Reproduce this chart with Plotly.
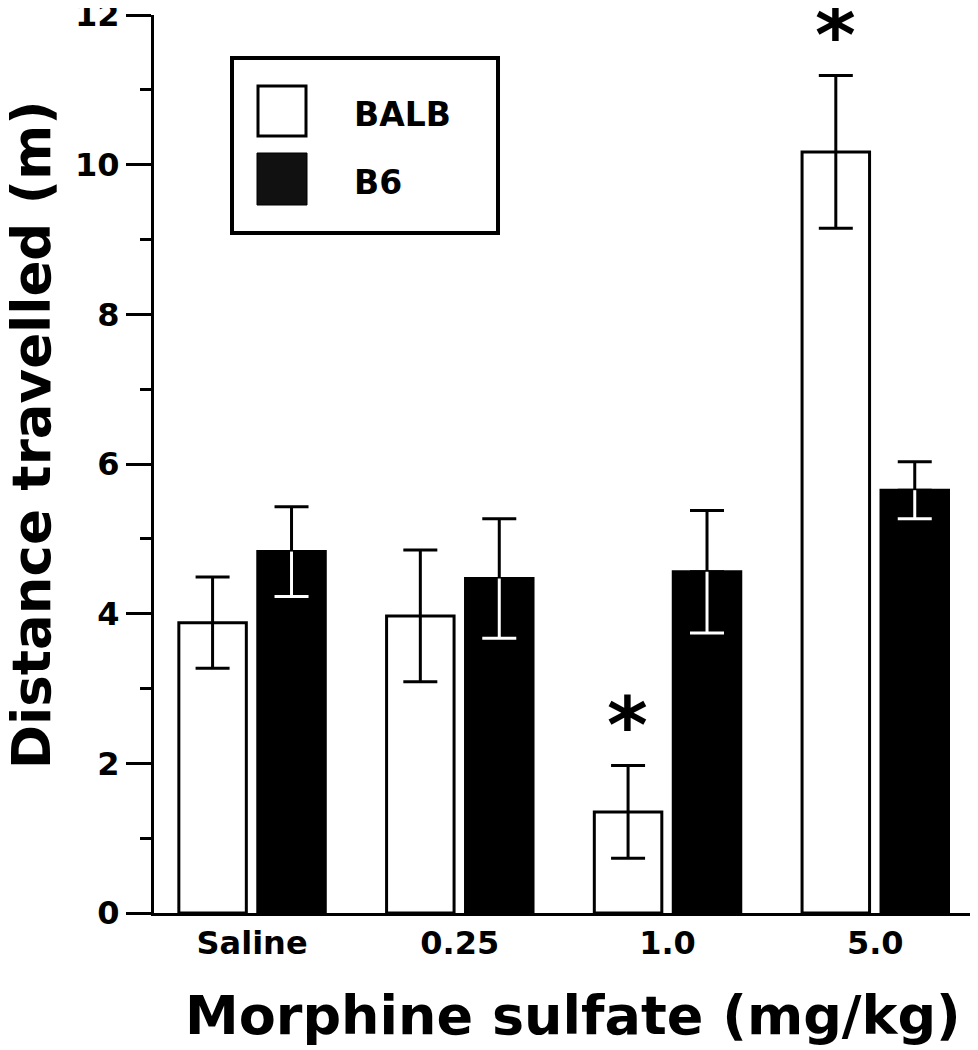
import plotly.graph_objects as go

# ---------------- data ----------------
categories = ["Saline", "0.25", "1.0", "5.0"]
balb_mean = [3.88, 3.97, 1.35, 10.17]
balb_sem = [0.61, 0.88, 0.62, 1.02]
b6_mean = [4.83, 4.47, 4.56, 5.65]
b6_sem = [0.60, 0.80, 0.82, 0.38]
series_names = ["BALB", "B6"]
significant_balb = ["1.0", "5.0"]
y_ticks = [0, 2, 4, 6, 8, 10, 12]

FONT = "DejaVu Sans"
BODY = 8                      # default page margin of the html body
W, H = 978 - BODY, 1050 - BODY
ML, MR, MT, MB = 154 - BODY, 3, 15 - BODY, 137

zeros = [0] * len(categories)
b6_low = [m - e for m, e in zip(b6_mean, b6_sem)]

fig = go.Figure()

# BALB: white bars, black outline, black error bars
fig.add_trace(go.Bar(
    x=categories, y=balb_mean, name=series_names[0], offsetgroup="balb",
    marker=dict(color="white", line=dict(color="black", width=3)),
    error_y=dict(type="data", array=balb_sem, color="black", thickness=3, width=17),
))
# B6: black bars, black upper error bar
fig.add_trace(go.Bar(
    x=categories, y=b6_mean, name=series_names[1], offsetgroup="b6",
    marker=dict(color="black", line=dict(color="black", width=3)),
    error_y=dict(type="data", symmetric=False, array=b6_sem, arrayminus=zeros,
                 color="black", thickness=3, width=17),
))
# B6: white lower stem inside the black bar
fig.add_trace(go.Bar(
    x=categories, y=b6_mean, offsetgroup="b6", showlegend=False, hoverinfo="skip",
    marker=dict(color="rgba(0,0,0,0)", line=dict(width=0)),
    error_y=dict(type="data", symmetric=False, array=zeros, arrayminus=b6_sem,
                 color="white", thickness=3, width=0),
))
# B6: white lower cap
fig.add_trace(go.Bar(
    x=categories, y=b6_low, offsetgroup="b6", showlegend=False, hoverinfo="skip",
    marker=dict(color="rgba(0,0,0,0)", line=dict(width=0)),
    error_y=dict(type="data", array=zeros, color="white", thickness=3, width=17),
))

pw, ph = W - ML - MR, H - MT - MB
def px(x):   # page x -> paper
    return (x - BODY - ML) / pw
def py(y):   # page y -> paper
    return ((H - MB) - (y - BODY)) / ph

annotations = []
# significance asterisks above BALB bars
for cat in significant_balb:
    i = categories.index(cat)
    annotations.append(dict(
        x=i, y=balb_mean[i] + balb_sem[i], xref="x", yref="y",
        text="*", showarrow=False, xshift=-40, yshift=-7, yanchor="bottom",
        font=dict(family=FONT, size=78, color="black", weight="bold"),
    ))

# axis titles
annotations.append(dict(
    x=px(573), y=py(1015), xref="paper", yref="paper",
    text="Morphine sulfate (mg/kg)", showarrow=False,
    xanchor="center", yanchor="middle",
    font=dict(family=FONT, size=54, color="black", weight="bold"),
))
annotations.append(dict(
    x=px(31), y=py(435), xref="paper", yref="paper",
    text="Distance travelled (m)", showarrow=False,
    textangle=-90, xanchor="center", yanchor="middle",
    font=dict(family=FONT, size=53, color="black", weight="bold"),
))

# legend (drawn manually to match the large swatches)
shapes = [
    dict(type="rect", xref="paper", yref="paper", x0=px(232), x1=px(498), y0=py(233), y1=py(58),
         line=dict(color="black", width=4), fillcolor="white", layer="above"),
    dict(type="rect", xref="paper", yref="paper", x0=px(258), x1=px(306), y0=py(136), y1=py(86),
         line=dict(color="black", width=3), fillcolor="white", layer="above"),
    dict(type="rect", xref="paper", yref="paper", x0=px(257), x1=px(307), y0=py(205), y1=py(153),
         line=dict(color="black", width=1), fillcolor="#111111", layer="above"),
]
for name, yc in zip(series_names, [114, 182]):
    annotations.append(dict(
        x=px(352), y=py(yc), xref="paper", yref="paper", text=name, showarrow=False,
        xanchor="left", yanchor="middle",
        font=dict(family=FONT, size=33, color="black", weight="bold"),
    ))

fig.update_layout(
    width=W, height=H,
    margin=dict(l=ML, r=MR, t=MT, b=MB, pad=0, autoexpand=False),
    paper_bgcolor="white", plot_bgcolor="white",
    barmode="group", bargap=0.24, bargroupgap=0.145,
    showlegend=False,
    annotations=annotations, shapes=shapes,
    font=dict(family=FONT, color="black"),
)
fig.update_xaxes(
    type="category", categoryorder="array", categoryarray=categories,
    range=[-0.472, 3.48], showline=True, linecolor="black", linewidth=3,
    ticks="", showgrid=False, zeroline=False, automargin=False,
    tickfont=dict(family=FONT, size=32, color="black", weight="bold"),
)
fig.update_yaxes(
    range=[0, 12], tickvals=y_ticks, showline=True, linecolor="black", linewidth=3,
    ticks="outside", ticklen=25, tickwidth=3, tickcolor="black",
    ticklabeloverflow="allow", automargin=False,
    minor=dict(dtick=1, ticks="outside", ticklen=11, tickwidth=3, tickcolor="black", showgrid=False),
    showgrid=False, zeroline=False,
    tickfont=dict(family=FONT, size=32, color="black", weight="bold"),
)

fig.write_html("out.html")
